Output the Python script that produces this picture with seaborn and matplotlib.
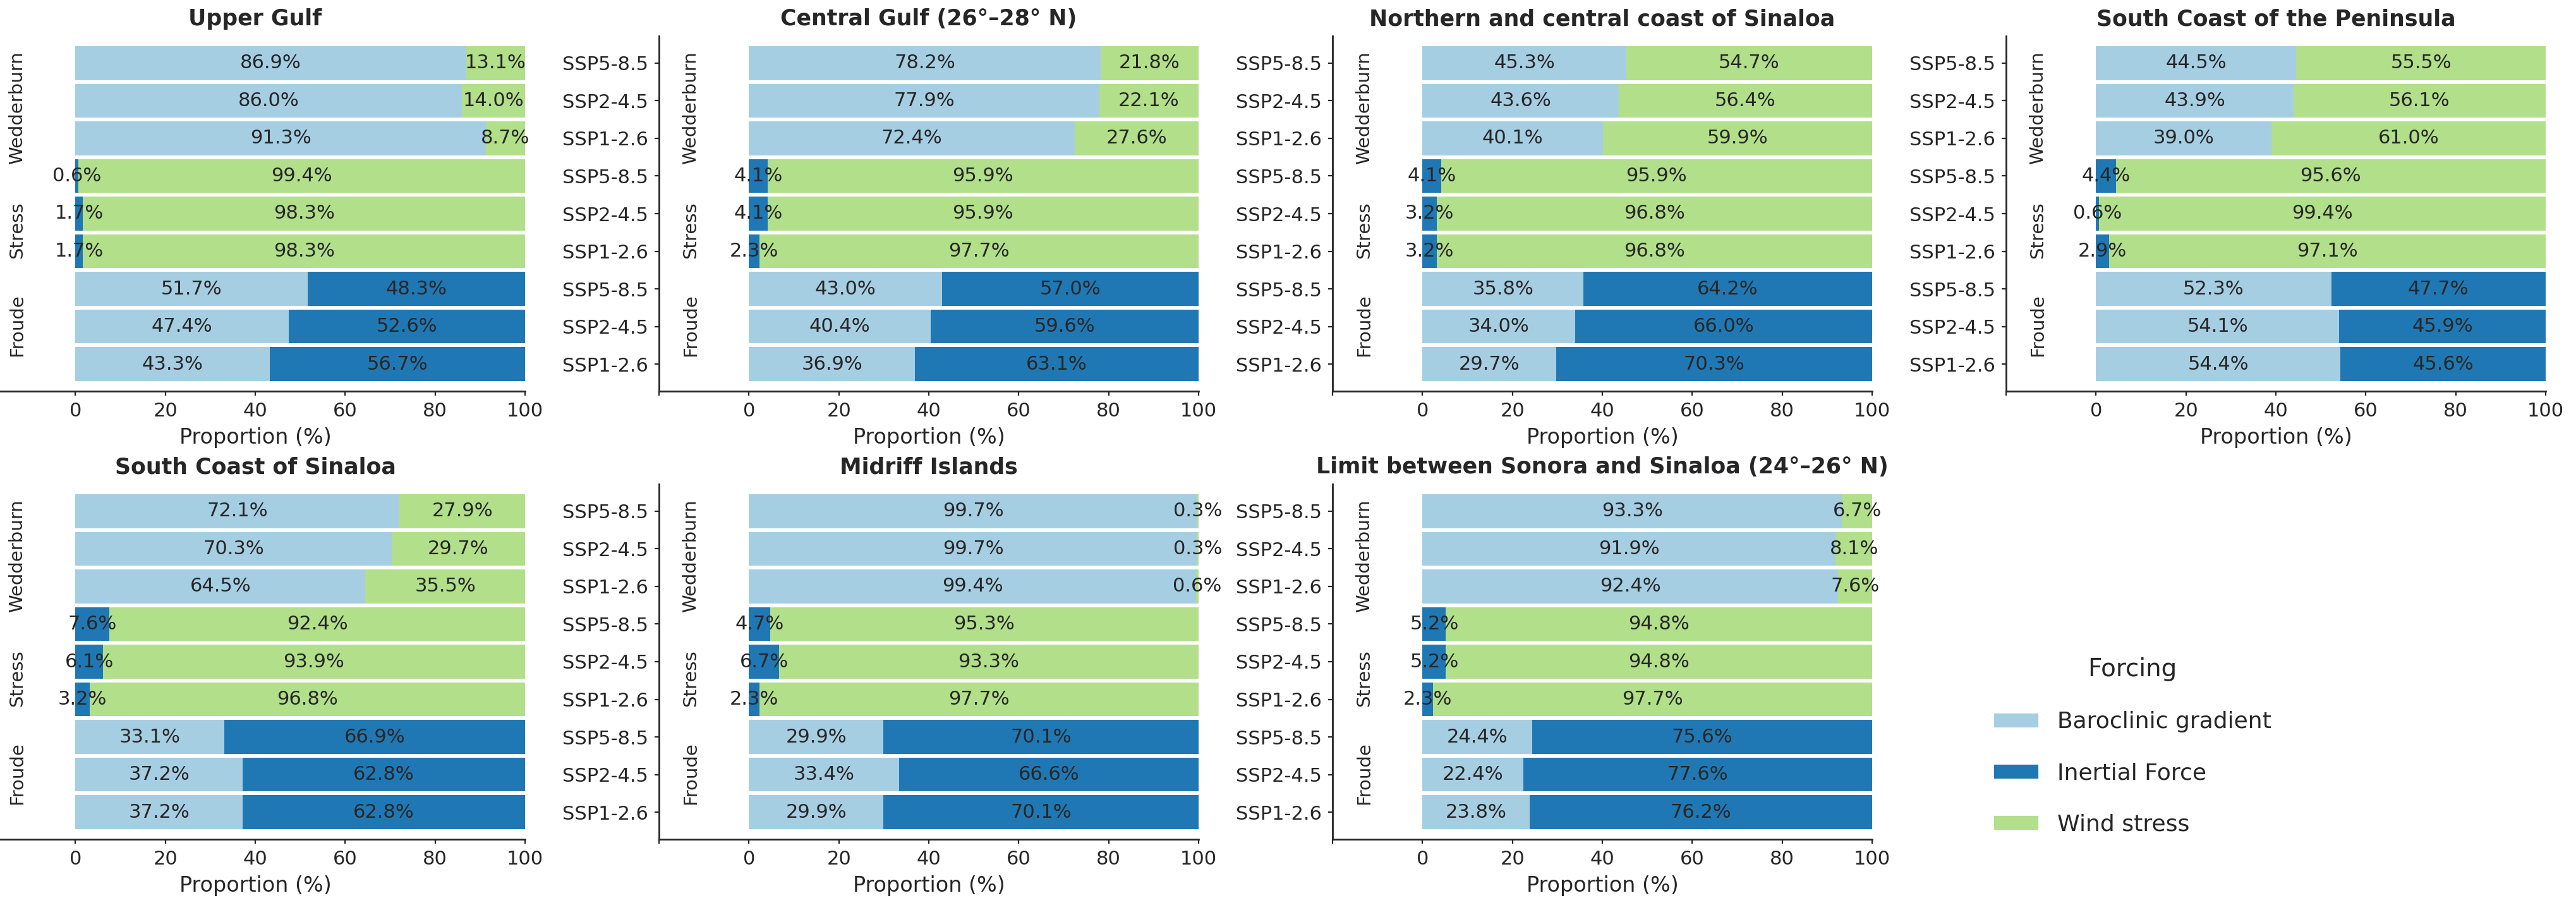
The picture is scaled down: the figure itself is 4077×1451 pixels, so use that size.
import matplotlib
matplotlib.use("Agg")
import matplotlib.pyplot as plt
import matplotlib.transforms as mtransforms
from matplotlib.patches import Patch
import pandas as pd
import seaborn as sns

sns.set_style("ticks")
plt.rcParams["font.family"] = ["DejaVu Sans"]
plt.rcParams["xtick.labelsize"] = 11
plt.rcParams["ytick.labelsize"] = 11
plt.rcParams["xtick.major.size"] = 2.5
plt.rcParams["ytick.major.size"] = 2.5
plt.rcParams["axes.linewidth"] = 1.0

regions = [
    "Upper Gulf",
    "Central Gulf (26°–28° N)",
    "Northern and central coast of Sinaloa",
    "South Coast of the Peninsula",
    "South Coast of Sinaloa",
    "Midriff Islands",
    "Limit between Sonora and Sinaloa (24°–26° N)",
]
scenarios = ["SSP5-8.5", "SSP2-4.5", "SSP1-2.6"]
indices = ["Wedderburn", "Stress", "Froude"]
forcings = ["Baroclinic gradient", "Inertial Force", "Wind stress"]

# each list: Wedderburn (SSP5, SSP2, SSP1), Stress (...), Froude (...)
baroclinic = [
    [86.9, 86.0, 91.3, 0, 0, 0, 51.7, 47.4, 43.3],
    [78.2, 77.9, 72.4, 0, 0, 0, 43.0, 40.4, 36.9],
    [45.3, 43.6, 40.1, 0, 0, 0, 35.8, 34.0, 29.7],
    [44.5, 43.9, 39.0, 0, 0, 0, 52.3, 54.1, 54.4],
    [72.1, 70.3, 64.5, 0, 0, 0, 33.1, 37.2, 37.2],
    [99.7, 99.7, 99.4, 0, 0, 0, 29.9, 33.4, 29.9],
    [93.3, 91.9, 92.4, 0, 0, 0, 24.4, 22.4, 23.8],
]
inertial = [
    [0, 0, 0, 0.6, 1.7, 1.7, 48.3, 52.6, 56.7],
    [0, 0, 0, 4.1, 4.1, 2.3, 57.0, 59.6, 63.1],
    [0, 0, 0, 4.1, 3.2, 3.2, 64.2, 66.0, 70.3],
    [0, 0, 0, 4.4, 0.6, 2.9, 47.7, 45.9, 45.6],
    [0, 0, 0, 7.6, 6.1, 3.2, 66.9, 62.8, 62.8],
    [0, 0, 0, 4.7, 6.7, 2.3, 70.1, 66.6, 70.1],
    [0, 0, 0, 5.2, 5.2, 2.3, 75.6, 77.6, 76.2],
]
wind = [
    [13.1, 14.0, 8.7, 99.4, 98.3, 98.3, 0, 0, 0],
    [21.8, 22.1, 27.6, 95.9, 95.9, 97.7, 0, 0, 0],
    [54.7, 56.4, 59.9, 95.9, 96.8, 96.8, 0, 0, 0],
    [55.5, 56.1, 61.0, 95.6, 99.4, 97.1, 0, 0, 0],
    [27.9, 29.7, 35.5, 92.4, 93.9, 96.8, 0, 0, 0],
    [0.3, 0.3, 0.6, 95.3, 93.3, 97.7, 0, 0, 0],
    [6.7, 8.1, 7.6, 94.8, 94.8, 97.7, 0, 0, 0],
]

rows = [f"{i} {s}" for i in indices for s in scenarios]
colors = sns.color_palette("Paired", 3)

W, H = 4077, 1451
fig = plt.figure(figsize=(W / 200, H / 200), dpi=200)

# axes placement in pixels (first column's y axis falls off the canvas like the original)
col_left = [-23, 1043, 2109, 3175]
row_top = [57, 766]
ax_w, ax_h = 854, 562

for k, region in enumerate(regions):
    r, c = divmod(k, 4)
    ax = fig.add_axes([col_left[c] / W, 1 - (row_top[r] + ax_h) / H, ax_w / W, ax_h / H])

    df = pd.DataFrame({"row": rows, forcings[0]: baroclinic[k],
                       forcings[1]: inertial[k], forcings[2]: wind[k]})
    cum = df[forcings].cumsum(axis=1)

    # stacked bars: draw cumulative ends from the last layer to the first
    for j in reversed(range(3)):
        f = forcings[j]
        sel = df[f] > 0
        layer = pd.DataFrame({"row": df.loc[sel, "row"], "end": cum.loc[sel, f]})
        sns.barplot(data=layer, x="end", y="row", order=rows, orient="h",
                    color=colors[j], saturation=1, width=0.9, errorbar=None,
                    linewidth=0, ax=ax)

    for j, f in enumerate(forcings):
        for i, (v, e) in enumerate(zip(df[f], cum[f])):
            if v > 0:
                ax.text(e - v / 2, i, f"{v:.1f}%", ha="center", va="center", fontsize=11)

    trans = mtransforms.blended_transform_factory(ax.transData, ax.transAxes)
    for name, fy in zip(indices, [0.797, 0.454, 0.186]):
        ax.text(-13, fy, name, transform=trans, rotation=90,
                ha="center", va="center", fontsize=10.5)

    ax.set_xlim(-20, 100)
    ax.set_xticks(range(-20, 101, 20))
    ax.set_xticklabels([""] + [str(t) for t in range(0, 101, 20)])
    ax.set_yticks(range(len(rows)))
    if c == 0:
        # this axis sits outside the canvas in the original, nothing of it shows
        ax.set_yticklabels([])
        ax.tick_params(axis="y", length=0)
    else:
        ax.set_yticklabels(scenarios * 3)
    ax.set_ylim(len(rows) - 1 + 0.72, -0.72)
    ax.set_ylabel("")
    ax.set_xlabel("Proportion (%)", fontsize=12)
    ax.set_title(region, fontsize=12.5, fontweight="bold")
    sns.despine(ax=ax)

handles = [Patch(facecolor=colors[j], label=forcings[j]) for j in range(3)]
fig.legend(handles=handles, title="Forcing", loc="upper left",
           bbox_to_anchor=(3140 / W, 1 - 1026 / H), frameon=False,
           fontsize=13, title_fontsize=14, labelspacing=1.3, borderaxespad=0)

fig.savefig("out.png", dpi=200)
